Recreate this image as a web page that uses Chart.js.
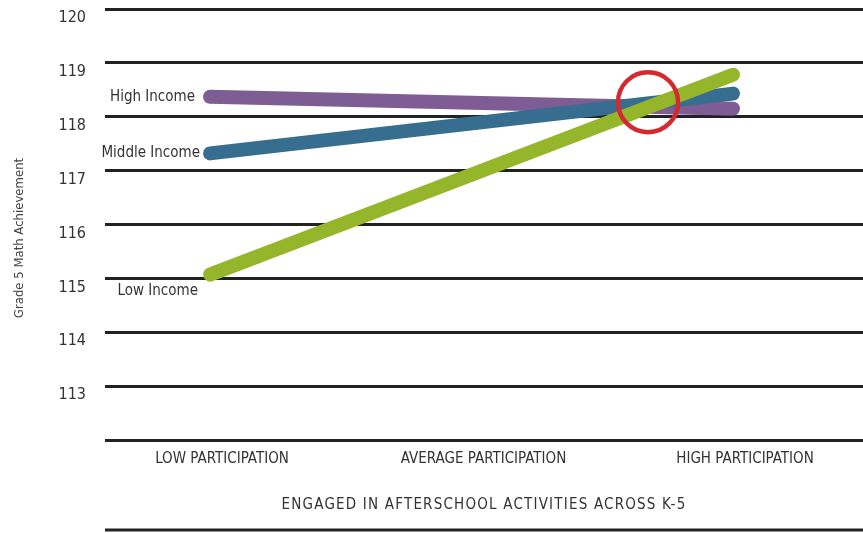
<!DOCTYPE html>
<html>
<head>
<meta charset="utf-8">
<script src="https://cdn.jsdelivr.net/npm/chart.js@4"></script>
<style>
  html, body { margin: 0; padding: 0; background: #fff; }
  #wrap { width: 863px; height: 533px; }
</style>
</head>
<body>
<div id="wrap"><canvas id="c" width="863" height="533"></canvas></div>
<script>
// ---- data ----
const categories = ['LOW PARTICIPATION', 'AVERAGE PARTICIPATION', 'HIGH PARTICIPATION'];
const seriesNames = ['High Income', 'Middle Income', 'Low Income'];
const highIncome = [118.37, null, 118.15];
const middleIncome = [117.32, null, 118.43];
const lowIncome = [115.07, null, 118.78];
const yTickValues = [112, 113, 114, 115, 116, 117, 118, 119, 120];
const highlightPoint = [{ x: 1.675, y: 118.27 }];
const yTitle = 'Grade 5 Math Achievement';
const xTitle = 'ENGAGED IN AFTERSCHOOL ACTIVITIES ACROSS K-5';

const FONT = '"Liberation Sans Narrow", "DejaVu Sans Condensed", "Roboto Condensed", sans-serif';

function toPoints(values) {
  return values.map((v, i) => ({ x: i, y: v })).filter(p => p.y !== null);
}

const labelPlugin = {
  id: 'labels',
  afterDatasetsDraw(chart) {
    const ctx = chart.ctx;
    ctx.save();
    ctx.font = '15px ' + FONT;
    ctx.fillStyle = '#333';
    ctx.textAlign = 'right';
    ctx.textBaseline = 'middle';
    const offsets = [{ dx: -15, dy: 0 }, { dx: -10, dy: 0 }, { dx: -12, dy: 17 }];
    seriesNames.forEach((name, i) => {
      const meta = chart.getDatasetMeta(i + 1);
      const pt = meta.data[0];
      if (!pt) return;
      ctx.fillText(name, pt.x + offsets[i].dx, pt.y + offsets[i].dy);
    });
    ctx.restore();
  },
  afterDraw(chart) {
    const ctx = chart.ctx;
    const area = chart.chartArea;
    ctx.save();
    // bottom rule
    ctx.strokeStyle = '#222';
    ctx.lineWidth = 3;
    ctx.beginPath();
    ctx.moveTo(area.left, 530);
    ctx.lineTo(chart.width, 530);
    ctx.stroke();
    // y title
    ctx.fillStyle = '#444';
    ctx.font = '13px ' + FONT;
    ctx.textAlign = 'center';
    ctx.textBaseline = 'middle';
    ctx.translate(20, 238);
    ctx.rotate(-Math.PI / 2);
    ctx.fillText(yTitle, 0, 0);
    ctx.restore();
    // x title
    ctx.save();
    ctx.fillStyle = '#333';
    ctx.font = '15px ' + FONT;
    ctx.textAlign = 'center';
    ctx.textBaseline = 'middle';
    if ('letterSpacing' in ctx) ctx.letterSpacing = '1.2px';
    ctx.fillText(xTitle, (area.left + area.right) / 2, 505);
    ctx.restore();
  }
};

new Chart(document.getElementById('c'), {
  type: 'line',
  data: {
    datasets: [
      {
        label: 'highlight',
        data: highlightPoint,
        showLine: false,
        pointRadius: 30,
        pointHoverRadius: 30,
        pointBorderWidth: 4.5,
        pointBorderColor: '#d42a2f',
        pointBackgroundColor: 'rgba(0,0,0,0)'
      },
      {
        label: seriesNames[0],
        data: toPoints(highIncome),
        borderColor: '#7e5c94',
        borderWidth: 14,
        borderCapStyle: 'round',
        pointRadius: 0
      },
      {
        label: seriesNames[1],
        data: toPoints(middleIncome),
        borderColor: '#376e8f',
        borderWidth: 14,
        borderCapStyle: 'round',
        pointRadius: 0
      },
      {
        label: seriesNames[2],
        data: toPoints(lowIncome),
        borderColor: '#95b52b',
        borderWidth: 14,
        borderCapStyle: 'round',
        pointRadius: 0
      }
    ].map((d, i) => Object.assign(d, { order: i === 0 ? 0 : 4 - i }))
  },
  options: {
    responsive: false,
    animation: false,
    events: [],
    layout: { autoPadding: false, padding: { top: 9, right: 0, left: 0, bottom: 0 } },
    plugins: { legend: { display: false }, tooltip: { enabled: false } },
    scales: {
      x: {
        type: 'linear',
        min: -0.4015,
        max: 2.497,
        afterBuildTicks: s => { s.ticks = categories.map((c, i) => ({ value: i })); },
        afterFit: s => { s.height = 93; s.paddingLeft = 0; s.paddingRight = 0; },
        grid: { display: false, drawTicks: false },
        border: { display: false },
        ticks: {
          callback: v => categories[v] || '',
          color: '#333',
          font: { family: FONT, size: 15 },
          padding: 10,
          labelOffset: 12,
          maxRotation: 0,
          autoSkip: false
        }
      },
      y: {
        min: 112,
        max: 120,
        afterBuildTicks: s => { s.ticks = yTickValues.map(v => ({ value: v })); },
        afterFit: s => { s.width = 105; s.paddingTop = 0; s.paddingBottom = 0; },
        grid: { color: '#222', lineWidth: 3, drawTicks: false },
        border: { display: false },
        ticks: {
          callback: v => (v === 112 ? '' : String(v)),
          color: '#333',
          font: { family: FONT, size: 16 },
          padding: 19,
          labelOffset: 9
        }
      }
    }
  },
  plugins: [labelPlugin]
});
</script>
</body>
</html>
